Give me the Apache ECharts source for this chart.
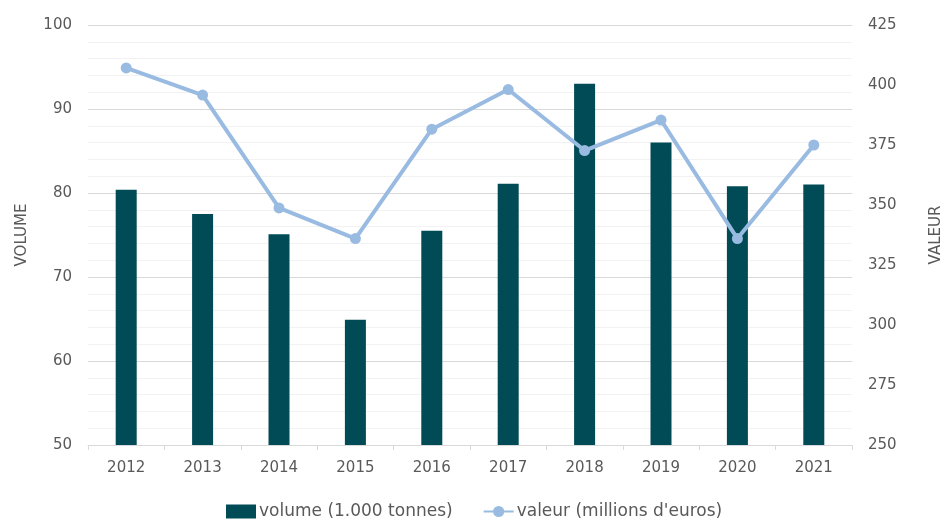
<!DOCTYPE html>
<html><head><meta charset="utf-8">
<script src="https://cdn.jsdelivr.net/npm/echarts@6/dist/echarts.min.js"></script>
<style>html,body{margin:0;padding:0;background:#fff}#c{width:943px;height:520px}</style>
</head><body><div id="c"></div>
<script>
const years = ['2012','2013','2014','2015','2016','2017','2018','2019','2020','2021'];
const volume = [80.4, 77.5, 75.1, 64.9, 75.5, 81.1, 93.0, 86.0, 80.8, 81.0];
const valeur = [407.1, 395.8, 348.8, 336.0, 381.6, 398.1, 372.7, 385.4, 336.0, 375.0];
const volumeName = 'volume (1.000 tonnes)';
const valeurName = "valeur (millions d'euros)";

const font = 'DejaVu Sans';
const txt = '#595959';
const chart = echarts.init(document.getElementById('c'));
chart.setOption({
  animation: false,
  textStyle: {fontFamily: font},
  grid: {left: 88, right: 91, top: 25, bottom: 75, containLabel: false, outerBoundsMode: 'none'},
  legend: {
    top: 503, left: 226, padding: 0, itemGap: 30, itemWidth: 30, itemHeight: 14,
    textStyle: {color: txt, fontSize: 17, fontFamily: font, padding: [0, 0, 0, -2]},
    data: [{name: volumeName, icon: 'rect'}, {name: valeurName}]
  },
  xAxis: {
    type: 'category', data: years,
    axisLine: {lineStyle: {color: '#d9d9d9'}},
    axisTick: {show: true, length: 5, lineStyle: {color: '#d9d9d9'}},
    axisLabel: {color: txt, fontSize: 15, margin: 16, fontFamily: font}
  },
  yAxis: [{
    type: 'value', min: 50, max: 100, interval: 10,
    name: 'VOLUME', nameLocation: 'middle', nameGap: 58, nameRotate: 90,
    nameTextStyle: {color: txt, fontSize: 15, fontFamily: font},
    axisLabel: {color: txt, fontSize: 15, margin: 16, fontFamily: font},
    axisLine: {show: false}, axisTick: {show: false},
    splitLine: {lineStyle: {color: '#d9d9d9'}},
    minorTick: {show: false, splitNumber: 5},
    minorSplitLine: {show: true, lineStyle: {color: '#f2f2f2'}}
  }, {
    type: 'value', min: 250, max: 425, interval: 25,
    name: 'VALEUR', nameLocation: 'middle', nameGap: 77, nameRotate: 90,
    nameTextStyle: {color: txt, fontSize: 15, fontFamily: font},
    axisLabel: {color: txt, fontSize: 15, margin: 16, fontFamily: font},
    axisLine: {show: false}, axisTick: {show: false},
    splitLine: {show: false}
  }],
  series: [{
    name: volumeName, type: 'bar', data: volume, yAxisIndex: 0,
    barWidth: 21, itemStyle: {color: '#004b55'}
  }, {
    name: valeurName, type: 'line', data: valeur, yAxisIndex: 1,
    symbol: 'circle', symbolSize: 11,
    lineStyle: {color: '#99bbe1', width: 4},
    itemStyle: {color: '#99bbe1'}
  }]
});
</script></body></html>
